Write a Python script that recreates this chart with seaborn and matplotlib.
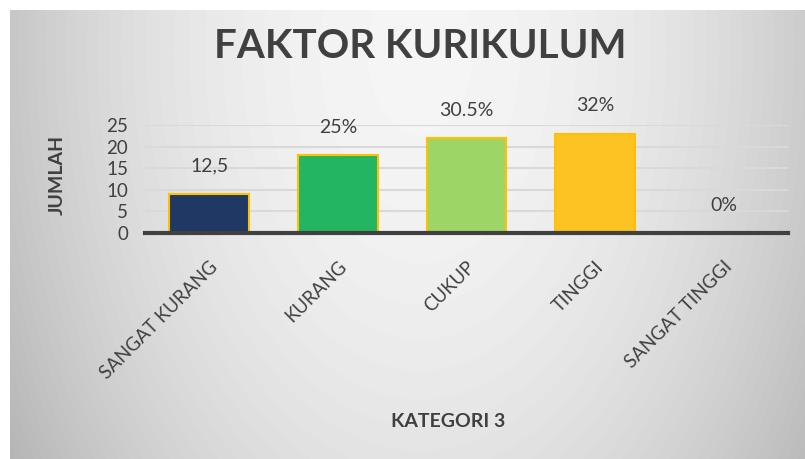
import numpy as np
import pandas as pd
import matplotlib.pyplot as plt
import seaborn as sns

categories = ["SANGAT KURANG", "KURANG", "CUKUP", "TINGGI", "SANGAT TINGGI"]
jumlah = [9, 18, 22, 23, 0]
bar_labels = ["12,5", "25%", "30.5%", "32%", "0%"]
bar_colors = ["#203864", "#24b563", "#9dd567", "#fdc322", "#fdc322"]

sns.set_style("white")
plt.rcParams['font.family'] = ['Lato', 'DejaVu Sans']
text_color = "#404040"

fig = plt.figure(figsize=(8.05, 4.59), dpi=100)
fig.patch.set_facecolor("white")

# soft grey radial background like the office chart style
bg = fig.add_axes([10 / 805, 0, 795 / 805, 449 / 459], zorder=-10)
yy, xx = np.mgrid[0:449, 0:795]
r2 = ((xx - 410) / 430) ** 2 + ((yy - 40) / 700) ** 2
shade = 0.96 - 0.2 * r2
bg.imshow(shade, cmap="gray", vmin=0, vmax=1, aspect="auto")
bg.axis("off")

ax = fig.add_axes([145 / 805, 1 - 233 / 459, 643 / 805, 108 / 459])
ax.patch.set_alpha(0)

df = pd.DataFrame({"Kategori": categories, "Jumlah": jumlah})
sns.barplot(data=df, x="Kategori", y="Jumlah", hue="Kategori", palette=bar_colors,
            legend=False, width=0.62, saturation=1, edgecolor="#ffc000",
            linewidth=1.5, ax=ax)

ax.set_xlim(-0.5, 4.5)
ax.set_ylim(0, 25)
ax.set_yticks(range(0, 26, 5))
ax.grid(axis="y", color="#d9d9d9", lw=1.5)
ax.set_axisbelow(True)
for s in ["left", "right", "top"]:
    ax.spines[s].set_visible(False)
ax.spines["bottom"].set_color(text_color)
ax.spines["bottom"].set_linewidth(3)
ax.spines["bottom"].set_zorder(5)

ax.tick_params(axis="y", length=0, labelsize=13.5, labelcolor=text_color, pad=12)
ax.tick_params(axis="x", length=0, labelsize=13.5, labelcolor=text_color, pad=18)
ax.set_xticks(range(len(categories)))
ax.set_xticklabels(categories, rotation=45, ha="right", va="top", rotation_mode="anchor")

for i, (v, lab) in enumerate(zip(jumlah, bar_labels)):
    ax.annotate(lab, (i, v), xytext=(0, 20), textcoords="offset points",
                ha="center", va="center", fontsize=14, color=text_color)

ax.set_ylabel("JUMLAH", fontsize=14, fontweight="bold", color=text_color, va="center")
ax.yaxis.set_label_coords(-0.137, 0.537)
ax.set_xlabel("KATEGORI 3", fontsize=14, fontweight="bold", color=text_color)
ax.xaxis.set_label_coords(0.471, -1.67)

fig.text(0.522, 0.898, "FAKTOR KURIKULUM", ha="center", va="center",
         fontsize=29, fontweight="bold", color=text_color)

plt.savefig("out.png", dpi=100)
